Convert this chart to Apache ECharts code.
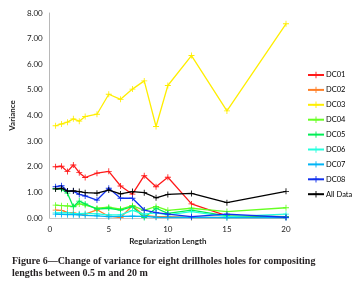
<!DOCTYPE html>
<html>
<head>
<meta charset="utf-8">
<script src="https://cdn.jsdelivr.net/npm/echarts@6/dist/echarts.min.js"></script>
<style>
  html, body { margin: 0; padding: 0; background: #fff; }
  #chart { width: 359px; height: 294px; }
</style>
</head>
<body>
<div id="chart"></div>
<script>
// regularization lengths (m)
const lengths = [0.5, 1, 1.5, 2, 2.5, 3, 4, 5, 6, 7, 8, 9, 10, 12, 15, 20]

const dc01 = [2.0, 2.02, 1.81, 2.07, 1.77, 1.58, 1.75, 1.82, 1.25, 0.93, 1.65, 1.22, 1.59, 0.55, 0.08, 0.05]
const dc02 = [0.31, 0.3, 0.22, 0.2, 0.15, 0.15, 0.32, 0.07, 0.02, 0.48, 0.1, 0.05, 0.05, 0.02, 0.02, 0.02]
const dc03 = [3.6, 3.67, 3.74, 3.87, 3.78, 3.96, 4.05, 4.83, 4.63, 5.03, 5.35, 3.57, 5.17, 6.34, 4.18, 7.58]
const dc04 = [0.5, 0.48, 0.47, 0.45, 0.55, 0.5, 0.38, 0.42, 0.35, 0.48, 0.3, 0.45, 0.3, 0.38, 0.25, 0.4]
const dc05 = [1.15, 1.12, 0.97, 0.44, 0.66, 0.55, 0.35, 0.38, 0.31, 0.44, 0.02, 0.38, 0.18, 0.31, 0.08, 0.05]
const dc06 = [0.2, 0.2, 0.2, 0.18, 0.17, 0.18, 0.16, 0.12, 0.12, 0.3, 0.15, 0.2, 0.12, 0.25, 0.05, 0.15]
const dc07 = [0.15, 0.14, 0.13, 0.13, 0.12, 0.1, 0.08, 0.05, 0.06, 0.07, 0.06, 0.03, 0.02, 0.03, 0.01, 0.01]
const dc08 = [1.22, 1.26, 1.05, 1.05, 0.92, 0.86, 0.7, 1.16, 0.77, 0.77, 0.31, 0.21, 0.15, 0.05, 0.15, 0.03]
const allData = [1.13, 1.16, 1.05, 1.06, 1.03, 0.99, 0.97, 1.09, 0.94, 1.03, 0.99, 0.79, 0.92, 0.96, 0.6, 1.04]

const seriesNames = ['DC01', 'DC02', 'DC03', 'DC04', 'DC05', 'DC06', 'DC07', 'DC08', 'All Data']
const seriesValues = [dc01, dc02, dc03, dc04, dc05, dc06, dc07, dc08, allData]
const seriesColors = ['#ff1a1a', '#ff7f27', '#ffee00', '#66ff22', '#00ee55', '#22ffdd', '#00b4f5', '#1030ee', '#000000']

const plus = 'path://M4.3,0H5.7V4.3H10V5.7H5.7V10H4.3V5.7H0V4.3H4.3Z'
const font = 'Lato, "Liberation Sans", sans-serif'

const chart = echarts.init(document.getElementById('chart'))
const option = {
  animation: false,
  title: {
    text: 'Figure 6\u2014Change of variance for eight drillholes holes for compositing\nlengths between 0.5 m and 20 m',
    left: 12,
    top: 255,
    padding: 0,
    textStyle: {
      fontFamily: '"Liberation Serif", serif',
      fontWeight: 'bold',
      fontSize: 10,
      lineHeight: 12.5,
      color: '#231f20'
    }
  },
  legend: {
    orient: 'vertical',
    left: 302,
    top: 66,
    itemWidth: 16,
    itemHeight: 8,
    itemGap: 6.9,
    data: seriesNames,
    textStyle: { fontFamily: font, fontSize: 7.5, color: '#000', padding: [0, 0, 0, -3] }
  },
  grid: { left: 49, right: 73, top: 13, bottom: 76 },
  xAxis: {
    type: 'value',
    min: 0,
    max: 20,
    interval: 5,
    name: 'Regularization Length',
    nameLocation: 'middle',
    nameGap: 17,
    nameTextStyle: { fontFamily: font, fontSize: 8, fontWeight: 'bold', color: '#222' },
    axisLine: { lineStyle: { color: '#c8c8c8' } },
    axisTick: { show: false },
    splitLine: { show: false },
    axisLabel: { fontFamily: font, fontSize: 8, color: '#222', margin: 7 }
  },
  yAxis: {
    type: 'value',
    min: 0,
    max: 8,
    interval: 1,
    name: 'Variance',
    nameLocation: 'middle',
    nameGap: 31,
    nameTextStyle: { fontFamily: font, fontSize: 8, fontWeight: 'bold', color: '#222' },
    axisLine: { show: true, lineStyle: { color: '#b8b8b8' } },
    axisTick: { show: false },
    splitLine: { show: false },
    axisLabel: {
      fontFamily: font,
      fontSize: 8,
      color: '#222',
      margin: 7,
      formatter: v => v.toFixed(2)
    }
  },
  series: seriesNames.map((name, i) => ({
    name: name,
    type: 'line',
    data: lengths.map((x, j) => [x, seriesValues[i][j]]),
    symbol: plus,
    symbolSize: 6,
    showSymbol: true,
    color: seriesColors[i],
    lineStyle: { width: 1.3, color: seriesColors[i] },
    itemStyle: { color: seriesColors[i] },
    z: 2 + i
  }))
}
chart.setOption(option)
</script>
</body>
</html>
